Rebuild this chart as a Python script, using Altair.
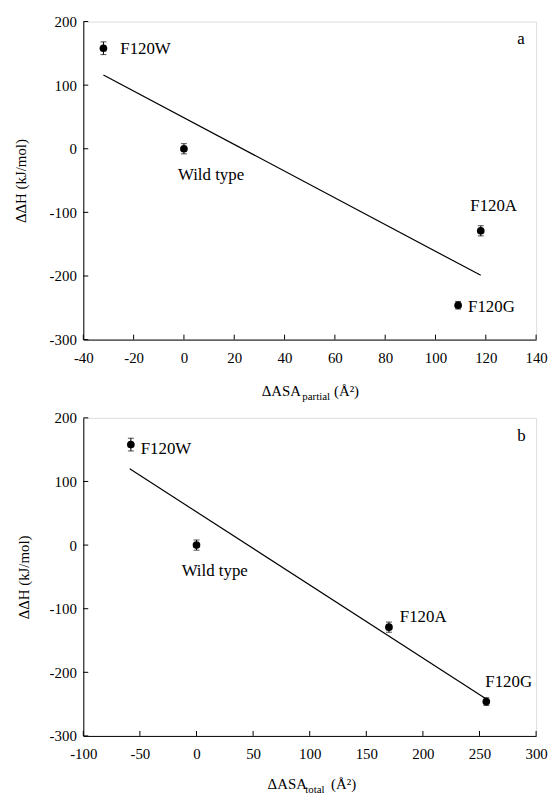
import altair as alt
import pandas as pd

# ---- data ----
labels = ["F120W", "Wild type", "F120A", "F120G"]
asa_partial = [-32, 0, 118, 109]
asa_total = [-58, 0, 170, 256]
ddh = [158, 0, -129, -246]
ddh_err = [10, 8, 8, 6]

fit_a_x = [-32, 118]
fit_a_y = [116, -199]
fit_b_x = [-59, 256]
fit_b_y = [120, -242]

ticks_a = [-40, -20, 0, 20, 40, 60, 80, 100, 120, 140]
ticks_b = [-100, -50, 0, 50, 100, 150, 200, 250, 300]
ticks_y = [-300, -200, -100, 0, 100, 200]

# ---- styles (label placement: dx, dy, align) ----
place_a = [(17, 1, "left"), (-6, 27, "left"), (13, -25, "center"), (10, 2, "left")]
place_b = [(10, 4, "left"), (-15, 26, "left"), (11, -10, "left"), (-1, -20, "left")]

FONT = "Liberation Serif"
W, H = 457, 321


def panel(xvals, fit_x, fit_y, xdomain, xticks, letter, places, sub, title_x,
          yt_x, left_pad, title_gap):
    df = pd.DataFrame({"x": xvals, "y": ddh, "err": ddh_err, "label": labels})
    df["lo"] = df["y"] - df["err"]
    df["hi"] = df["y"] + df["err"]

    xs = alt.Scale(domain=xdomain, nice=False, zero=False)
    ys = alt.Scale(domain=[-300, 200], nice=False, zero=False)
    xax = alt.Axis(values=xticks, ticks=False, grid=False, title=None,
                   labelExpr="'' + datum.value", labelPadding=11,
                   labelFontSize=15, labelFont=FONT, labelColor="black",
                   domainColor="black", labelFlush=False)
    yax = alt.Axis(values=ticks_y, ticks=False, grid=False,
                   title="ΔΔH (kJ/mol)", titleFont=FONT, titleFontSize=15,
                   titleFontWeight="normal", titleColor="black",
                   titleX=yt_x, titleY=H / 2, titleAngle=-90,
                   titleAlign="center", titleBaseline="middle",
                   labelExpr="'' + datum.value", labelPadding=7,
                   labelFontSize=15, labelFont=FONT, labelColor="black",
                   domainColor="black", labelFlush=False)

    def X(f):
        return alt.X(f + ":Q", scale=xs, axis=xax)

    def Y(f):
        return alt.Y(f + ":Q", scale=ys, axis=yax)

    base = alt.Chart(df)
    line = alt.Chart(pd.DataFrame({"x": fit_x, "y": fit_y})).mark_line(
        color="black", strokeWidth=1.2).encode(x=X("x"), y=Y("y"))
    err = base.mark_rule(color="black", strokeWidth=1).encode(
        x=X("x"), y=Y("lo"), y2="hi:Q")
    cap_lo = base.mark_tick(orient="horizontal", size=6, thickness=1,
                            color="black").encode(x=X("x"), y=Y("lo"))
    cap_hi = base.mark_tick(orient="horizontal", size=6, thickness=1,
                            color="black").encode(x=X("x"), y=Y("hi"))
    pts = base.mark_point(filled=True, size=60, color="black",
                          opacity=1).encode(x=X("x"), y=Y("y"))

    xt = alt.Chart(pd.DataFrame({"x": xticks})).mark_rule(
        color="black").encode(x=X("x"), y=alt.value(H), y2=alt.value(H - 5))
    yt = alt.Chart(pd.DataFrame({"y": ticks_y})).mark_rule(
        color="black").encode(y=Y("y"), x=alt.value(0), x2=alt.value(5))

    texts = []
    for lab, (dx, dy, al) in zip(labels, places):
        texts.append(
            alt.Chart(df[df["label"] == lab]).mark_text(
                dx=dx, dy=dy, align=al, baseline="middle", fontSize=17,
                font=FONT, color="black").encode(x=X("x"), y=Y("y"),
                                                  text="label:N"))

    one = pd.DataFrame({"k": [0]})
    letter_m = alt.Chart(one).mark_text(
        text=letter, fontSize=17, font=FONT, color="black", align="left",
        baseline="alphabetic").encode(x=alt.value(W - 19), y=alt.value(23))

    tb = H + title_gap
    t1 = alt.Chart(one).mark_text(
        text="ΔASA", fontSize=15, font=FONT, color="black", align="left",
        baseline="alphabetic").encode(x=alt.value(title_x[0]), y=alt.value(tb))
    t2 = alt.Chart(one).mark_text(
        text=sub, fontSize=11, font=FONT, color="black", align="left",
        baseline="alphabetic").encode(x=alt.value(title_x[1]), y=alt.value(tb + 4))
    t3 = alt.Chart(one).mark_text(
        text="(Å²)", fontSize=15, font=FONT, color="black", align="left",
        baseline="alphabetic").encode(x=alt.value(title_x[2]), y=alt.value(tb))

    # invisible spacer that sets the panel's left extent
    spacer = alt.Chart(one).mark_rule(opacity=0).encode(
        x=alt.value(-left_pad), x2=alt.value(-left_pad + 1),
        y=alt.value(H / 2), y2=alt.value(H / 2 + 1))

    return alt.layer(line, err, cap_lo, cap_hi, pts, xt, yt, *texts,
                     letter_m, t1, t2, t3, spacer).properties(width=W, height=H)


pa = panel(asa_partial, fit_a_x, fit_a_y, [-40, 140], ticks_a, "a",
           place_a, "partial", (180, 221, 253), -63, 73, 57)
pb = panel(asa_total, fit_b_x, fit_b_y, [-100, 300], ticks_b, "b",
           place_b, "total", (186, 224, 250), -60, 73, 54)

chart = alt.vconcat(pa, pb, spacing=7).properties(
    padding={"left": 2, "top": 2, "right": 0, "bottom": 0}
).configure_view(stroke="black", strokeWidth=1).configure(
    font=FONT, background="white")

chart.save("out.html", embed_options={"renderer": "svg", "actions": False})
